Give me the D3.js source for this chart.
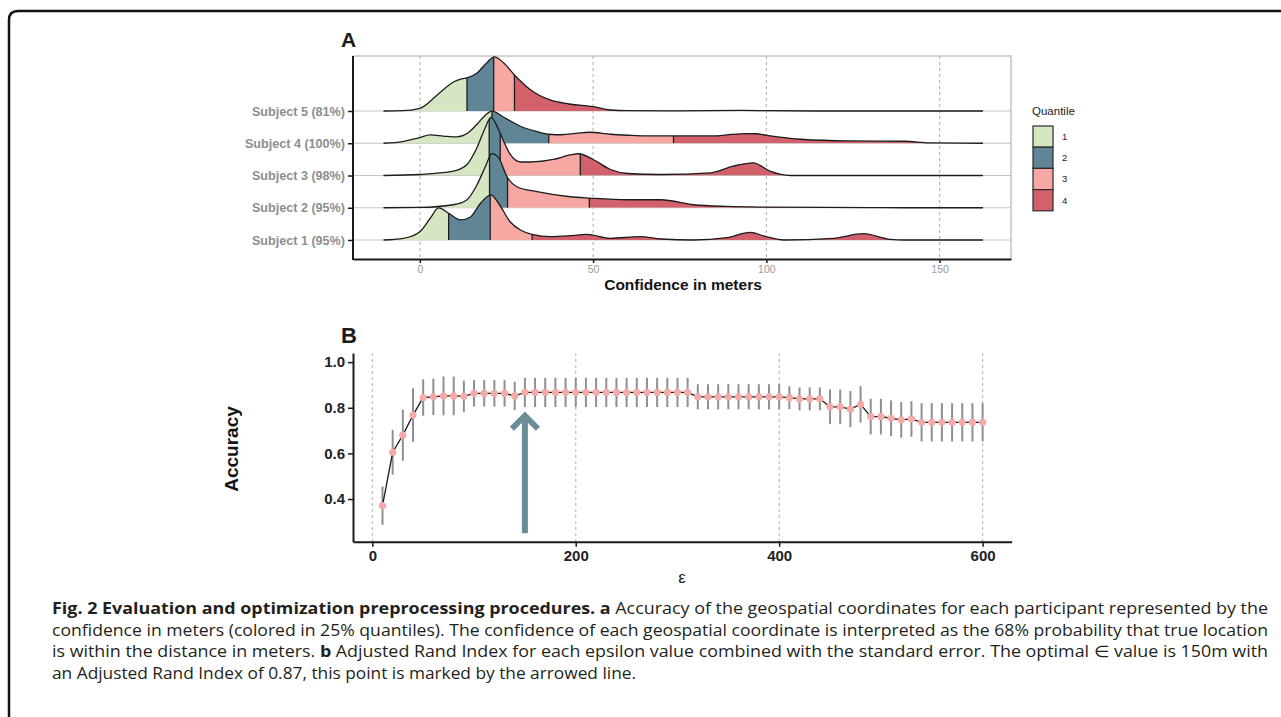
<!DOCTYPE html>
<html>
<head>
<meta charset="utf-8">
<script src="https://cdn.jsdelivr.net/npm/d3@7"></script>
<style>
  body { margin: 0; background: #fff; }
  svg { display: block; }
</style>
</head>
<body>
<div id="chart"></div>
<script>
// ---- panel A: density ridges (x in meters, density) ----
const subjects = ["Subject 5 (81%)", "Subject 4 (100%)", "Subject 3 (98%)", "Subject 2 (95%)", "Subject 1 (95%)"];

const density5 = [[-10.5, 0], [-5, 0.0003], [0, 0.0027], [5, 0.016], [9.7, 0.029], [12, 0.032], [14, 0.0335],
  [16.5, 0.038], [19, 0.047], [21.5, 0.054], [24.2, 0.048], [27.3, 0.036], [32, 0.021], [37.6, 0.011],
  [43, 0.007], [50, 0.0043], [55, 0.001], [60, 0.0003], [75, 0.0002], [93, 0.0006], [100, 0.0003],
  [115, 0], [162.5, 0]];
const density4 = [[-10.5, 0], [-5, 0.0017], [0, 0.0057], [3, 0.0083], [6.8, 0.0072], [10.7, 0.0063],
  [13.6, 0.0097], [16.5, 0.019], [18.9, 0.028], [20.8, 0.032], [24.2, 0.026], [29, 0.017], [33.8, 0.0117],
  [37.2, 0.009], [41, 0.0085], [45, 0.0098], [49, 0.011], [55, 0.009], [60, 0.008], [65, 0.0073],
  [73, 0.0073], [84, 0.0073], [90, 0.0088], [94, 0.0097], [97, 0.0095], [100, 0.008], [110, 0.004],
  [124, 0.0023], [140, 0.002], [147, 0.0003], [162.5, 0]];
const density3 = [[-10.5, 0], [0, 0.001], [9.7, 0.0043], [13.6, 0.011], [16.5, 0.028], [18.9, 0.048],
  [20.5, 0.058], [22.7, 0.046], [24.2, 0.034], [26.1, 0.021], [29, 0.0135], [32, 0.0135], [38.5, 0.016],
  [43.4, 0.0205], [45.8, 0.0217], [50, 0.016], [55, 0.006], [60, 0.002], [69.6, 0.001], [84, 0.0027],
  [90.4, 0.0093], [96.2, 0.0127], [101, 0.0043], [107, 0], [162.5, 0]];
const density2 = [[-10.5, 0], [0, 0.0003], [9.7, 0.003], [13.6, 0.008], [16.5, 0.023], [18.9, 0.041],
  [20.8, 0.054], [22.7, 0.05], [25.3, 0.03], [28, 0.021], [33.8, 0.016], [43.4, 0.011], [48.9, 0.0097],
  [60, 0.008], [69.6, 0.008], [79, 0.003], [88.6, 0.0013], [98, 0.0007], [130, 0.0002], [140, 0], [162.5, 0]];
const density1 = [[-10.5, 0], [-4.8, 0.0017], [0, 0.0083], [3, 0.0217], [5.4, 0.032], [8.3, 0.0267],
  [11.7, 0.02], [14.6, 0.023], [17.5, 0.0367], [20.5, 0.045], [22.7, 0.0367], [26.1, 0.018], [29, 0.01],
  [32.4, 0.0057], [37.6, 0.0033], [43.4, 0.0043], [48.2, 0.0057], [55, 0.0017], [63.6, 0.0033],
  [69.6, 0.001], [79, 0], [88.6, 0.0023], [95.3, 0.0077], [100, 0.0033], [105, 0], [119.3, 0.0017],
  [128, 0.0063], [135.7, 0.0007], [140, 0], [162.5, 0]];
const densities = [density5, density4, density3, density2, density1];

// quantile cut points (25/50/75%) per subject, same order as subjects
const quantileCuts = [[13.6, 21.3, 27.3], [20.8, 37.2, 73.2], [20.0, 23.2, 46.3], [20.1, 25.3, 48.9], [8.3, 20.3, 32.4]];
const quantileLabels = ["1", "2", "3", "4"];
const quantileColors = ["#d6e6c2", "#5f8596", "#f8a8a2", "#d3616c"];
const meterTicks = [0, 50, 100, 150];

// ---- panel B: accuracy per epsilon ----
const epsilon = [10, 20, 30, 40, 50, 60, 70, 80, 90, 100, 110, 120, 130, 140, 150, 160, 170, 180, 190, 200,
  210, 220, 230, 240, 250, 260, 270, 280, 290, 300, 310, 320, 330, 340, 350, 360, 370, 380, 390, 400,
  410, 420, 430, 440, 450, 460, 470, 480, 490, 500, 510, 520, 530, 540, 550, 560, 570, 580, 590, 600];
const accuracy = [0.371, 0.605, 0.68, 0.768, 0.845, 0.848, 0.852, 0.852, 0.85, 0.863, 0.863, 0.863, 0.863, 0.852,
  0.867, 0.867, 0.867, 0.867, 0.867, 0.867, 0.867, 0.867, 0.867, 0.867, 0.867, 0.867, 0.867, 0.867, 0.867, 0.867, 0.867,
  0.848, 0.848, 0.848, 0.848, 0.848, 0.848, 0.848, 0.848, 0.848,
  0.844, 0.839, 0.839, 0.839,
  0.804, 0.804, 0.794, 0.815, 0.761, 0.761, 0.754, 0.747, 0.751,
  0.736, 0.736, 0.736, 0.736, 0.736, 0.736, 0.736];
const stdErr = [0.084, 0.098, 0.112, 0.117, 0.08, 0.08, 0.085, 0.085, 0.069, 0.058, 0.058, 0.058, 0.058, 0.062,
  0.064, 0.064, 0.064, 0.064, 0.064, 0.064, 0.064, 0.064, 0.064, 0.064, 0.064, 0.064, 0.064, 0.064, 0.064, 0.064, 0.064,
  0.055, 0.055, 0.055, 0.055, 0.055, 0.055, 0.055, 0.055, 0.055,
  0.05, 0.05, 0.05, 0.05,
  0.076, 0.076, 0.079, 0.08, 0.078, 0.078, 0.078, 0.078, 0.078,
  0.084, 0.084, 0.084, 0.084, 0.084, 0.084, 0.084];
const epsTicks = [0, 200, 400, 600];
const accTicks = [0.4, 0.6, 0.8, 1.0];
const optimalEps = 150, arrowFrom = 0.25, arrowTo = 0.765;

// ---- caption ----
const captionLines = [
  [["Fig. 2 Evaluation and optimization preprocessing procedures. a", true], [" Accuracy of the geospatial coordinates for each participant represented by the", false]],
  [["confidence in meters (colored in 25% quantiles). The confidence of each geospatial coordinate is interpreted as the 68% probability that true location", false]],
  [["is within the distance in meters. ", false], ["b", true], [" Adjusted Rand Index for each epsilon value combined with the standard error. The optimal \u2208 value is 150m with", false]],
  [["an Adjusted Rand Index of 0.87, this point is marked by the arrowed line.", false]]
];

const width = 1281, height = 717;
const svg = d3.select("#chart").append("svg")
  .attr("width", width).attr("height", height)
  .style("font-family", "'Liberation Sans', Arial, sans-serif");

// outer frame (open to the right and bottom)
svg.append("path")
  .attr("d", "M9,717 V20 Q9,11 18,11 H1281")
  .attr("fill", "none").attr("stroke", "#111").attr("stroke-width", 2.5);

/* ================= Panel A ================= */
const pa = { left: 353, right: 1011, top: 56, bottom: 259 };

const xA = d3.scaleLinear().domain([-19.3, 170.6]).range([pa.left, pa.right]);
const yA = d3.scalePoint().domain(subjects).range([111, 240]);
const hA = d3.scaleLinear().domain([0, 0.0322]).range([0, yA.step()]);

const gA = svg.append("g");

// grid
gA.selectAll(".vgrid").data(meterTicks).enter().append("line")
  .attr("x1", d => xA(d)).attr("x2", d => xA(d))
  .attr("y1", pa.top).attr("y2", pa.bottom)
  .attr("stroke", "#b3b3b3").attr("stroke-width", 1.1).attr("stroke-dasharray", "3,3");
gA.selectAll(".hgrid").data(subjects).enter().append("line")
  .attr("x1", pa.left).attr("x2", pa.right)
  .attr("y1", d => yA(d)).attr("y2", d => yA(d))
  .attr("stroke", "#c4c4c4").attr("stroke-width", 1);

// panel border (top / right light grey)
gA.append("path")
  .attr("d", `M${pa.left},${pa.top} H${pa.right} V${pa.bottom}`)
  .attr("fill", "none").attr("stroke", "#c3c3c3").attr("stroke-width", 1.5);

// ridges, back to front
subjects.forEach((s, i) => {
  const base = yA(s);
  const pts = densities[i];
  const area = d3.area().curve(d3.curveMonotoneX)
    .x(d => xA(d[0])).y0(base).y1(d => base - hA(d[1]));
  const line = d3.line().curve(d3.curveMonotoneX)
    .x(d => xA(d[0])).y(d => base - hA(d[1]));

  const clipId = "ridge-clip-" + i;
  svg.append("defs").append("clipPath").attr("id", clipId)
    .append("path").attr("d", area(pts));

  const g = gA.append("g");
  const inner = g.append("g").attr("clip-path", `url(#${clipId})`);
  const bounds = [xA.domain()[0], ...quantileCuts[i], xA.domain()[1]];
  const top = base - hA(d3.max(pts, d => d[1])) - 2;

  inner.selectAll("rect").data(quantileColors).enter().append("rect")
    .attr("x", (c, q) => xA(bounds[q]))
    .attr("width", (c, q) => xA(bounds[q + 1]) - xA(bounds[q]))
    .attr("y", top).attr("height", base - top)
    .attr("fill", c => c);

  inner.selectAll("line").data(quantileCuts[i]).enter().append("line")
    .attr("x1", d => xA(d)).attr("x2", d => xA(d))
    .attr("y1", top).attr("y2", base)
    .attr("stroke", "#1e1e1e").attr("stroke-width", 1.3);

  g.append("path").attr("d", line(pts))
    .attr("fill", "none").attr("stroke", "#1c1c1c").attr("stroke-width", 1.3);
});

// x axis A
const axA = gA.append("g")
  .attr("transform", `translate(0,${pa.bottom})`)
  .call(d3.axisBottom(xA).tickValues(meterTicks).tickSize(4).tickSizeOuter(0).tickPadding(3));
axA.select(".domain").attr("stroke", "#1a1a1a").attr("stroke-width", 2);
axA.selectAll(".tick line").attr("stroke", "#1a1a1a").attr("stroke-width", 1.5);
axA.selectAll(".tick text").attr("fill", "#9a9a9a").attr("font-size", 10.5)
  .attr("font-family", "'Liberation Sans Narrow', 'Liberation Sans', sans-serif");

// y axis A
const ayA = gA.append("g")
  .attr("transform", `translate(${pa.left},0)`)
  .call(d3.axisLeft(yA).tickSize(5).tickPadding(3));
ayA.select(".domain").remove();
ayA.selectAll(".tick line").attr("stroke", "#1a1a1a").attr("stroke-width", 1.5);
ayA.selectAll(".tick text").attr("fill", "#8e8e8e").attr("font-size", 12.6)
  .attr("font-weight", "bold").attr("font-family", "'Liberation Sans', sans-serif");
gA.append("line")
  .attr("x1", pa.left).attr("x2", pa.left).attr("y1", pa.top).attr("y2", pa.bottom + 1)
  .attr("stroke", "#1a1a1a").attr("stroke-width", 2);

gA.append("text").text("A")
  .attr("x", 341).attr("y", 47)
  .attr("font-size", 21).attr("font-weight", "bold").attr("fill", "#1a1a1a");

gA.append("text").text("Confidence in meters")
  .attr("x", 683).attr("y", 290).attr("text-anchor", "middle")
  .attr("font-size", 15.5).attr("font-weight", "bold").attr("fill", "#141414");

// legend
const lg = gA.append("g").attr("transform", "translate(1033,112)");
lg.append("text").text("Quantile").attr("x", -1).attr("y", 3)
  .attr("font-size", 11.5).attr("fill", "#222");
lg.selectAll("rect").data(quantileColors).enter().append("rect")
  .attr("x", 0).attr("y", (c, i) => 14 + i * 21.2)
  .attr("width", 20).attr("height", 21.2)
  .attr("fill", c => c).attr("stroke", "#2a2a2a").attr("stroke-width", 1.2);
lg.selectAll(".lab").data(quantileLabels).enter().append("text")
  .text(d => d)
  .attr("x", 29).attr("y", (d, i) => 14 + i * 21.2 + 14)
  .attr("font-size", 9.5).attr("fill", "#222");

/* ================= Panel B ================= */
const pb = { left: 353, right: 1011.7, top: 353, bottom: 541.7 };
const xB = d3.scaleLinear().domain([-19, 628.6]).range([pb.left, pb.right]);
const yB = d3.scaleLinear().domain([0.213, 1.04]).range([pb.bottom, pb.top]);

const gB = svg.append("g");
const rows = epsilon.map((e, i) => ({ e, a: accuracy[i], se: stdErr[i] }));

gB.selectAll(".vgrid").data(epsTicks).enter().append("line")
  .attr("x1", d => xB(d)).attr("x2", d => xB(d))
  .attr("y1", pb.top).attr("y2", pb.bottom)
  .attr("stroke", "#b8b8b8").attr("stroke-width", 1.1).attr("stroke-dasharray", "3,3");

// error bars
gB.selectAll(".err").data(rows).enter().append("line")
  .attr("x1", d => xB(d.e)).attr("x2", d => xB(d.e))
  .attr("y1", d => yB(d.a - d.se)).attr("y2", d => yB(d.a + d.se))
  .attr("stroke", "#8f8f8f").attr("stroke-width", 2);

gB.append("path")
  .attr("d", d3.line().x(d => xB(d.e)).y(d => yB(d.a))(rows))
  .attr("fill", "none").attr("stroke", "#1a1a1a").attr("stroke-width", 1.3);

gB.selectAll(".pt").data(rows).enter().append("circle")
  .attr("cx", d => xB(d.e)).attr("cy", d => yB(d.a)).attr("r", 3.6)
  .attr("fill", "#f5aaa8");

// arrow at the optimal epsilon
const ax = xB(optimalEps), tipY = yB(arrowTo);
gB.append("line")
  .attr("x1", ax).attr("x2", ax).attr("y1", yB(arrowFrom)).attr("y2", tipY + 2)
  .attr("stroke", "#6b8d98").attr("stroke-width", 6);
gB.append("path")
  .attr("d", `M${ax - 13},${tipY + 13} L${ax},${tipY} L${ax + 13},${tipY + 13}`)
  .attr("fill", "none").attr("stroke", "#6b8d98").attr("stroke-width", 6)
  .attr("stroke-linejoin", "miter");

// axes B
const axB = gB.append("g")
  .attr("transform", `translate(0,${pb.bottom})`)
  .call(d3.axisBottom(xB).tickValues(epsTicks).tickSize(5).tickSizeOuter(0).tickPadding(4));
axB.select(".domain").attr("stroke", "#1a1a1a").attr("stroke-width", 2);
axB.selectAll(".tick line").attr("stroke", "#1a1a1a").attr("stroke-width", 1.5);
axB.selectAll(".tick text").attr("fill", "#222").attr("font-size", 15)
  .attr("font-weight", "bold").attr("font-family", "'Liberation Sans', sans-serif");

const ayB = gB.append("g")
  .attr("transform", `translate(${pb.left},0)`)
  .call(d3.axisLeft(yB).tickValues(accTicks).tickFormat(d3.format(".1f")).tickSize(5).tickSizeOuter(0).tickPadding(3));
ayB.select(".domain").attr("stroke", "#1a1a1a").attr("stroke-width", 2);
ayB.selectAll(".tick line").attr("stroke", "#1a1a1a").attr("stroke-width", 1.5);
ayB.selectAll(".tick text").attr("fill", "#222").attr("font-size", 15)
  .attr("font-weight", "bold").attr("font-family", "'Liberation Sans', sans-serif");

gB.append("text").text("B")
  .attr("x", 341).attr("y", 343)
  .attr("font-size", 22).attr("font-weight", "bold").attr("fill", "#1a1a1a");

gB.append("text").text("Accuracy")
  .attr("transform", "translate(238,449) rotate(-90)")
  .attr("text-anchor", "middle")
  .attr("font-size", 19).attr("font-weight", "bold").attr("fill", "#141414");

gB.append("text").text("\u03b5")
  .attr("x", 682).attr("y", 583).attr("text-anchor", "middle")
  .attr("font-size", 17).attr("fill", "#222");

/* ================= caption ================= */
const cap = svg.append("g")
  .style("font-family", "'Liberation Sans Narrow', 'Open Sans', sans-serif")
  .attr("fill", "#231f20").attr("font-size", 16);
const capLengths = [1216, 1216, 1216, 584];
captionLines.forEach((parts, i) => {
  const t = cap.append("text")
    .attr("x", 52).attr("y", 614 + i * 21.6)
    .attr("textLength", capLengths[i]).attr("lengthAdjust", "spacingAndGlyphs");
  parts.forEach(p => {
    t.append("tspan").text(p[0]).attr("font-weight", p[1] ? "bold" : "normal");
  });
});
</script>
</body>
</html>
